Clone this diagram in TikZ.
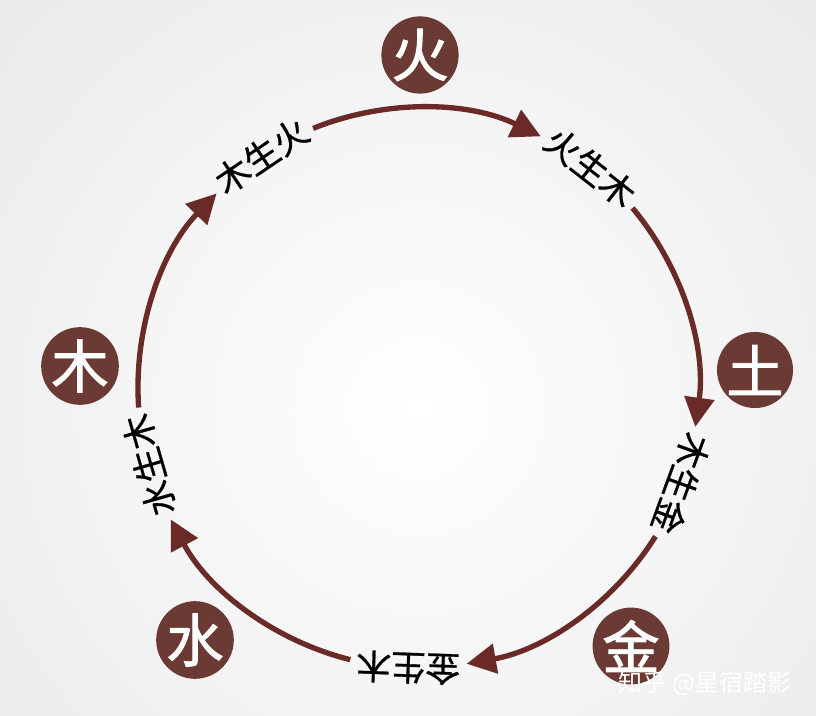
\documentclass[tikz,border=0pt]{standalone}
\usepackage{fontspec}
\newfontfamily\cjk{Noto Sans CJK SC}
\newfontfamily\cjkbadge{Noto Sans CJK SC}[FakeBold=1.6]
\newfontfamily\cjklabel{Noto Sans CJK SC}[FakeBold=0.8]
\usetikzlibrary{arrows.meta}
\definecolor{badgebrown}{HTML}{6B3A34}
\definecolor{arcbrown}{HTML}{6A2A27}
\definecolor{paper}{HTML}{E3E2E2}
\begin{document}
\begin{tikzpicture}[x=0.75pt, y=0.75pt]
\tikzstyle{element} = [circle, fill=badgebrown, text=white, minimum size=57pt, inner sep=0pt, font=\cjkbadge\fontsize{43}{43}\selectfont]
\tikzstyle{cycle} = [inner sep=1pt, font=\cjklabel\fontsize{26}{26}\selectfont]
\tikzstyle{arrow} = [draw=arcbrown, line width=4pt, -{Triangle[length=22pt, width=22pt]}]

% background
\useasboundingbox (-418,-328) rectangle (398,388);
\begin{scope}
\clip (-418,-328) rectangle (398,388);
\fill[paper] (-418,-328) rectangle (398,388);
\shade[inner color=white, outer color=paper] (0,-20) circle[radius=800];
\end{scope}

% elements
\node (Fire) [element] at (2,333) {火};
\node (Earth) [element] at (337,18) {土};
\node (Metal) [element] at (213,-258) {金};
\node (Water) [element] at (-223,-252) {水};
\node (Wood) [element] at (-338,22) {木};

% cycle labels
\node (WoodFire) [cycle, rotate=34] at (124:280) {木生火};
\node (FireWood) [cycle, rotate=-38] at (52:280) {火生木};
\node (WoodMetal) [cycle, rotate=-110] at (-20:280) {木生金};
\node (MetalWood) [cycle, rotate=-182] at (-92:280) {金生木};
\node (WaterWood) [cycle, rotate=-254] at (-164:280) {水生木};

\coordinate (WoodFireEnd) at (112:280);
\coordinate (FireWoodEnd) at (40:280);
\coordinate (WoodMetalEnd) at (-32:280);
\coordinate (MetalWoodEnd) at (-104:280);
\coordinate (WaterWoodEnd) at (-176:280);

\draw [arrow] (WoodFireEnd) arc[start angle=112, end angle=64, radius=280];
\draw [arrow] (FireWoodEnd) arc[start angle=40, end angle=-8, radius=280];
\draw [arrow] (WoodMetalEnd) arc[start angle=-32, end angle=-80, radius=280];
\draw [arrow] (MetalWoodEnd) arc[start angle=-104, end angle=-152, radius=280];
\draw [arrow] (WaterWoodEnd) arc[start angle=-176, end angle=-224, radius=280];

\node (Mark) [text=white, font=\cjk\fontsize{18}{18}\selectfont] at (287,-295) {知乎 @星宿踏影};

\end{tikzpicture}
\end{document}
